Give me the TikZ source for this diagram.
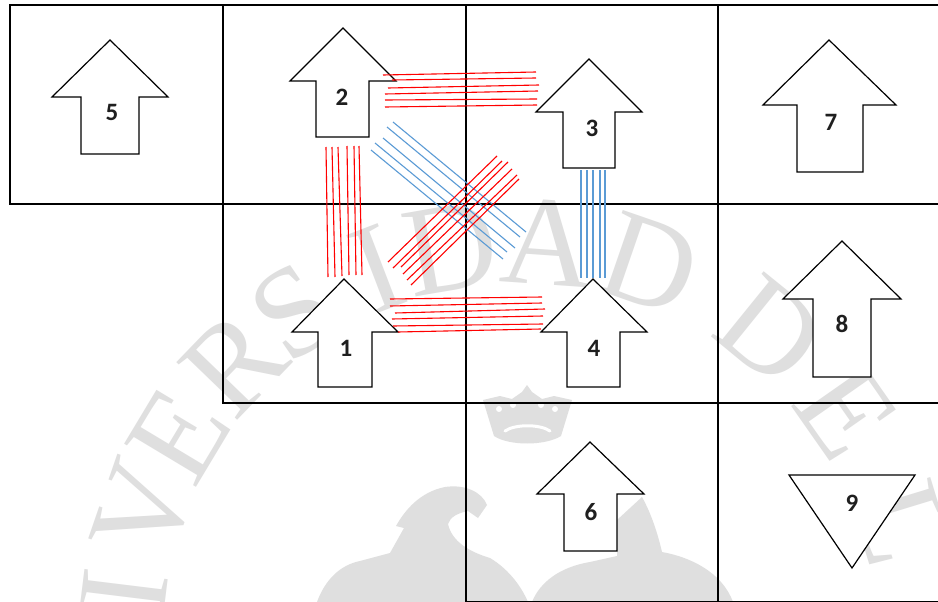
\documentclass[tikz,border=0pt]{standalone}
\usepackage{fontspec}
\setmainfont{Liberation Serif}
\newfontfamily\lblfont{Carlito}
\definecolor{wm}{RGB}{223,223,223}
\definecolor{lblue}{RGB}{91,155,213}
\tikzset{
  gridline/.style={draw=black, line width=2.4pt, line cap=rect},
  arrowshape/.style={draw=black, fill=white, line width=1.2pt, line join=miter},
  lbl/.style={font=\lblfont\bfseries\fontsize{25}{25}\selectfont, text=black!88, inner sep=0pt},
  redline/.style={draw=red, line width=1.1pt},
  blueline/.style={draw=lblue, line width=1.1pt},
  wmletter/.style={text=wm, font=\fontsize{128}{128}\selectfont, inner sep=0pt},
  wmshape/.style={fill=wm, draw=none}
}
\begin{document}
\begin{tikzpicture}[x=1pt,y=-1pt]
\useasboundingbox (0,0) rectangle (938,602);
\fill[white] (0,0) rectangle (938,602);
% watermark
\begin{scope}
\clip (0,0) rectangle (938,602);
\foreach \ch/\ang [count=\k] in {U/198,N/186,I/173,V/161,E/149,R/136,S/124.5,I/111,D/100,A/86,D/71,D/51,E/35,L/17}
  \node[wmletter, rotate=\ang-90] (w\k) at ({520+398*cos(\ang)},{640-398*sin(\ang)}) {\ch};
% crown
\fill[wmshape] (483,400) -- (500,396) -- (512,399) -- (522,392) -- (527,385) -- (532,392) -- (542,399) -- (554,396) -- (572,400)
  -- (561,436) .. controls (545,446) and (509,446) .. (494,436) -- cycle;
\draw[white, line width=3pt, line cap=round] (505,431) .. controls (515,424) and (540,424) .. (550,431);
\fill[white] (499,409) circle (3) (513,405) circle (3) (541,405) circle (3) (555,409) circle (3);
% left eagle
\fill[wmshape] (317,602) .. controls (325,580) and (340,565) .. (360,561) -- (390,553) -- (404,528) -- (396,526)
  .. controls (405,510) and (420,492) .. (445,487) .. controls (465,484) and (482,492) .. (487,505)
  -- (478,518) -- (468,511) .. controls (458,513) and (450,517) .. (448,524)
  .. controls (452,542) and (470,552) .. (490,558) .. controls (510,570) and (522,588) .. (528,602) -- cycle;
% right eagle
\fill[wmshape] (532,602) .. controls (540,582) and (560,567) .. (590,562) -- (617,556) -- (617,520) -- (642,497)
  .. controls (652,515) and (658,535) .. (662,552) .. controls (690,557) and (722,572) .. (733,602) -- cycle;
\end{scope}
% grid
\draw[gridline] (10,204) -- (10,5) -- (938,5);
\draw[gridline] (10,204) -- (938,204);
\draw[gridline] (223,5) -- (223,403);
\draw[gridline] (466,5) -- (466,602);
\draw[gridline] (718,5) -- (718,602);
\draw[gridline] (223,403) -- (938,403);
\draw[gridline] (466,602) -- (938,602);
% arrows
\foreach \tx/\ty/\by/\hl/\hr/\sl/\sr/\bt in {
  110/40/97/52/168/81/139/154,
  343/28/81/290/396/316/369/137,
  589/59/112/536/642/563/615/168,
  829/40/105/763/896/797/863/172,
  344/279/332/292/398/318/372/387,
  593/279/332/541/647/567/620/387,
  842/241/299/783/901/813/871/377,
  590/442/494/537/644/564/617/551}
  \draw[arrowshape] (\tx,\ty) -- (\hr,\by) -- (\sr,\by) -- (\sr,\bt) -- (\sl,\bt) -- (\sl,\by) -- (\hl,\by) -- cycle;
\draw[arrowshape] (789,475) -- (915,475) -- (852,568) -- cycle;
% labels
\node[lbl] (n5) at (112,112) {5};
\node[lbl] (n2) at (342,97) {2};
\node[lbl] (n3) at (592,128) {3};
\node[lbl] (n7) at (831,122) {7};
\node[lbl] (n1) at (346,348) {1};
\node[lbl] (n4) at (594,348) {4};
\node[lbl] (n8) at (842,324) {8};
\node[lbl] (n6) at (591,512) {6};
\node[lbl] (n9) at (852,503) {9};
% red bundle 2-3
\foreach \xa/\ya/\xb/\yb [count=\k] in {383/75/536/72, 392/80/536/78, 388/88/539/85, 385/94/538/91, 385/100/537/99, 385/107/537/105}{
  \coordinate (ta\k) at (\xa,\ya); \coordinate (tb\k) at (\xb,\yb);
  \draw[redline] (ta\k) -- (tb\k);}
% red bundle 2-1
\foreach \xa/\ya/\xb/\yb [count=\k] in {326/147/328/277, 332/147/335/277, 338/147/342/276, 347/146/349/275, 354/146/356/275, 359/146/362/275}{
  \coordinate (va\k) at (\xa,\ya); \coordinate (vb\k) at (\xb,\yb);
  \draw[redline] (va\k) -- (vb\k);}
% blue bundle 2-4
\foreach \xa/\ya/\xb/\yb [count=\k] in {393/122/526/232, 387/127/520/237, 383/138/515/248, 375/143/507/252, 371/150/503/259}{
  \coordinate (da\k) at (\xa,\ya); \coordinate (db\k) at (\xb,\yb);
  \draw[blueline] (da\k) -- (db\k);}
% red bundle 1-3
\foreach \xa/\ya/\xb/\yb [count=\k] in {388/262/497/156, 393/268/502/161, 401/267/508/162, 403/274/512/169, 407/280/517/175, 411/285/519/179}{
  \coordinate (ca\k) at (\xa,\ya); \coordinate (cb\k) at (\xb,\yb);
  \draw[redline] (ca\k) -- (cb\k);}
% blue bundle 3-4
\foreach \xa/\ya/\xb/\yb [count=\k] in {581/170/581/278, 587/170/587/278, 593/170/593/278, 600/170/600/278, 605/170/605/278}{
  \coordinate (ea\k) at (\xa,\ya); \coordinate (eb\k) at (\xb,\yb);
  \draw[blueline] (ea\k) -- (eb\k);}
% red bundle 1-4
\foreach \xa/\ya/\xb/\yb [count=\k] in {390/299/542/297, 390/306/542/303, 395/313/545/309, 392/319/543/316, 393/326/543/324, 398/332/541/329}{
  \coordinate (fa\k) at (\xa,\ya); \coordinate (fb\k) at (\xb,\yb);
  \draw[redline] (fa\k) -- (fb\k);}
\end{tikzpicture}
\end{document}
